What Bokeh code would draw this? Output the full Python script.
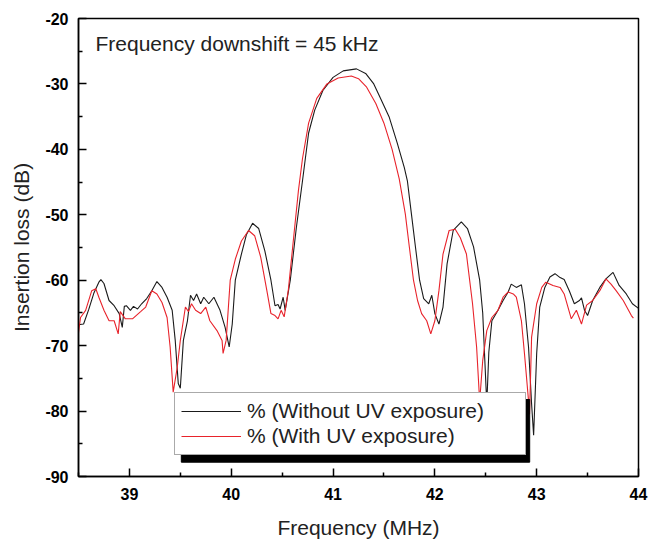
from bokeh.plotting import figure
from bokeh.models import FixedTicker, Legend, LegendItem, BoxAnnotation, Label
from bokeh.embed import file_html
from bokeh.resources import INLINE

# Without UV exposure (black)
freq_wo = [38.50, 38.55, 38.60, 38.65, 38.70, 38.72, 38.75, 38.80, 38.85, 38.90, 38.93, 38.95, 38.97,
           39.01, 39.04, 39.08, 39.12, 39.17, 39.22, 39.27, 39.32, 39.37, 39.42, 39.45, 39.48, 39.50,
           39.53, 39.57, 39.60, 39.63, 39.66, 39.70, 39.73, 39.78, 39.83, 39.89, 39.94, 39.98, 40.01,
           40.04, 40.10, 40.15, 40.21, 40.27, 40.33, 40.39, 40.43, 40.46, 40.48, 40.51, 40.53, 40.58,
           40.64, 40.70, 40.76, 40.82, 40.90, 41.00, 41.10, 41.23, 41.32, 41.40, 41.46, 41.55, 41.63,
           41.70, 41.73, 41.77, 41.81, 41.85, 41.89, 41.94, 41.97, 42.00, 42.04, 42.08, 42.12, 42.18,
           42.26, 42.32, 42.38, 42.44, 42.47, 42.49, 42.51, 42.53, 42.56, 42.62, 42.67, 42.72, 42.75,
           42.80, 42.85, 42.88, 42.92, 42.95, 42.97, 43.00, 43.03, 43.08, 43.13, 43.18, 43.23, 43.27,
           43.32, 43.37, 43.42, 43.44, 43.47, 43.50, 43.55, 43.62, 43.68, 43.75, 43.81, 43.88, 43.94,
           44.00]
loss_wo = [-66.8, -66.7, -64.5, -62.0, -60.3, -59.9, -60.5, -63.1, -63.9, -65.1, -67.2, -64.0, -63.9,
           -64.6, -64.0, -64.4, -63.6, -62.8, -61.6, -60.2, -61.1, -62.6, -64.6, -69.2, -75.8, -76.5,
           -69.2, -66.2, -62.3, -63.1, -62.1, -63.6, -62.6, -63.6, -62.6, -64.6, -67.2, -70.2, -66.7,
           -60.0, -56.0, -53.0, -51.3, -52.1, -55.5, -60.0, -63.9, -63.7, -64.4, -62.6, -64.6, -60.0,
           -51.9, -44.8, -37.5, -34.0, -31.0, -29.0, -28.0, -27.7, -28.4, -30.0, -32.0, -35.0, -39.0,
           -42.8, -44.8, -49.9, -55.0, -60.0, -62.8, -63.6, -62.3, -65.1, -66.7, -64.1, -57.5, -52.4,
           -51.1, -52.1, -54.9, -60.0, -65.0, -72.0, -79.0, -71.0, -66.2, -64.6, -63.1, -61.8, -60.6,
           -61.1, -60.7, -63.6, -70.2, -78.9, -83.7, -71.2, -64.1, -61.1, -59.5, -59.0, -59.6, -59.9,
           -61.6, -63.6, -63.1, -62.7, -64.6, -65.4, -63.1, -61.1, -59.8, -58.8, -60.8, -62.1, -63.6,
           -64.3]

# With UV exposure (red)
freq_uv = [38.50, 38.52, 38.57, 38.63, 38.67, 38.70, 38.75, 38.80, 38.85, 38.89, 38.91, 38.96, 39.03,
           39.11, 39.16, 39.22, 39.27, 39.32, 39.37, 39.40, 39.43, 39.47, 39.50, 39.55, 39.58, 39.61,
           39.65, 39.70, 39.75, 39.79, 39.86, 39.91, 39.92, 39.95, 39.99, 40.04, 40.10, 40.17, 40.23,
           40.29, 40.35, 40.39, 40.43, 40.46, 40.49, 40.52, 40.56, 40.62, 40.66, 40.70, 40.76, 40.84,
           40.94, 41.05, 41.18, 41.25, 41.33, 41.42, 41.50, 41.58, 41.65, 41.71, 41.75, 41.79, 41.83,
           41.87, 41.92, 41.96, 42.00, 42.04, 42.08, 42.14, 42.20, 42.25, 42.31, 42.37, 42.41, 42.44,
           42.47, 42.51, 42.56, 42.62, 42.67, 42.72, 42.77, 42.80, 42.85, 42.88, 42.92, 42.93, 42.95,
           43.00, 43.05, 43.09, 43.16, 43.23, 43.27, 43.34, 43.39, 43.44, 43.49, 43.55, 43.62, 43.68,
           43.73, 43.78, 43.85, 43.93, 43.95]
loss_uv = [-68.0, -65.7, -64.6, -61.6, -61.3, -62.6, -64.6, -66.2, -66.2, -68.2, -64.8, -65.9, -65.9,
           -64.8, -64.1, -61.6, -62.1, -63.4, -65.7, -70.2, -77.1, -73.3, -69.2, -64.1, -64.8, -63.6,
           -64.6, -65.1, -64.1, -66.2, -67.7, -69.2, -71.2, -69.2, -60.0, -56.8, -54.0, -52.4, -53.2,
           -56.5, -61.6, -65.1, -65.4, -65.9, -64.6, -65.6, -61.6, -52.4, -46.3, -41.4, -36.0, -32.2,
           -30.0, -29.1, -28.8, -29.2, -30.5, -33.0, -36.0, -40.0, -44.5, -49.9, -55.0, -60.0, -63.1,
           -65.1, -66.2, -68.2, -66.2, -61.6, -56.0, -52.4, -52.2, -53.5, -56.0, -63.6, -70.2, -78.5,
           -72.3, -67.7, -65.7, -64.6, -62.6, -61.8, -62.1, -62.6, -66.2, -71.2, -78.4, -80.5, -68.7,
           -63.6, -61.1, -60.3, -60.8, -61.1, -62.1, -65.9, -64.6, -66.7, -63.8, -63.1, -61.6, -59.8,
           -60.6, -61.6, -63.1, -65.4, -65.8]

x_ticks = [39, 40, 41, 42, 43, 44]
x_minor = [38.5, 39.5, 40.5, 41.5, 42.5, 43.5]
y_ticks = [-90, -80, -70, -60, -50, -40, -30, -20]
y_minor = [-85, -75, -65, -55, -45, -35, -25]

FONT = "Liberation Sans"

p = figure(width=648, height=542, x_range=(38.5, 44), y_range=(-90, -20),
           output_backend="svg", toolbar_location=None,
           min_border_left=78, min_border_right=10, min_border_top=18, min_border_bottom=66)
p.grid.visible = False
p.outline_line_color = "black"
p.outline_line_width = 1.5
p.background_fill_color = "white"
p.border_fill_color = "white"

for ax in (p.xaxis[0], p.yaxis[0]):
    ax.axis_line_width = 1.5
    ax.major_tick_in = 8
    ax.major_tick_out = 0
    ax.minor_tick_in = 4
    ax.minor_tick_out = 0
    ax.major_tick_line_width = 1.5
    ax.minor_tick_line_width = 1.5
    ax.major_label_text_font = FONT
    ax.major_label_text_font_style = "bold"
    ax.major_label_text_font_size = "16px"
    ax.major_label_text_color = "black"
    ax.axis_label_text_font = FONT
    ax.axis_label_text_font_style = "normal"
    ax.axis_label_text_font_size = "21px"
    ax.axis_label_text_color = "#222222"

p.xaxis[0].ticker = FixedTicker(ticks=x_ticks, minor_ticks=x_minor)
p.yaxis[0].ticker = FixedTicker(ticks=y_ticks, minor_ticks=y_minor)
p.xaxis[0].major_label_overrides = {t: str(t) for t in x_ticks}
p.yaxis[0].major_label_overrides = {t: str(t) for t in y_ticks}
p.xaxis[0].axis_label = "Frequency (MHz)"
p.yaxis[0].axis_label = "Insertion loss (dB)"
p.xaxis[0].major_label_standoff = 11
p.xaxis[0].axis_label_standoff = 13
p.yaxis[0].major_label_standoff = 10
p.yaxis[0].axis_label_standoff = 9

r_wo = p.line(freq_wo, loss_wo, line_color="#1a1a1a", line_width=1.1)
r_uv = p.line(freq_uv, loss_uv, line_color="#e8232b", line_width=1.1)

# legend shadow (placed from pixel geometry: 102 px/MHz, 6.543 px/dB)
shadow = BoxAnnotation(left=38.5 + 103 / 102, right=38.5 + 452 / 102,
                       top=-20 - 381 / 6.543, bottom=-20 - 443.7 / 6.543,
                       fill_color="black", fill_alpha=1, line_color="black", line_alpha=1)
p.add_layout(shadow)

legend = Legend(items=[LegendItem(label="% (Without UV exposure)", renderers=[r_wo]),
                       LegendItem(label="% (With UV exposure)", renderers=[r_uv])],
                location=(96, 21))
legend.label_text_font = FONT
legend.label_text_font_size = "21px"
legend.label_text_color = "#222222"
legend.glyph_width = 60
legend.label_standoff = 6
legend.padding = 6
legend.spacing = 1
legend.margin = 0
legend.border_line_color = "#555555"
legend.border_line_width = 1
legend.background_fill_alpha = 1
legend.label_width = 272
p.add_layout(legend, "center")

p.add_layout(Label(x=38.5 + 17 / 102, y=-20 - 25 / 6.543, text="Frequency downshift = 45 kHz",
                   text_font=FONT, text_font_size="21px", text_baseline="middle",
                   text_color="#222222"))

open("out.html", "w").write(file_html(p, INLINE))
